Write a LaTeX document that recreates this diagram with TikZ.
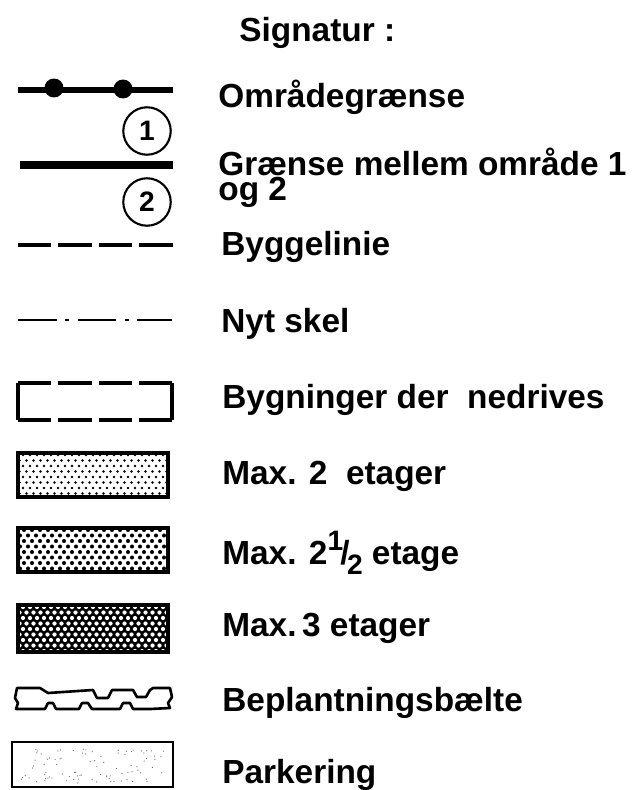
\documentclass[tikz,border=0pt]{standalone}
\usepackage{fontspec}
\setmainfont{Liberation Sans}
\usetikzlibrary{calc}
\tikzset{
    tekst/.style={anchor=west,inner sep=0pt,font=\fontsize{19}{19}\selectfont\bfseries},
    kant/.style={line width=2.2pt},
    nummer/.style={draw,circle,line width=1.2pt,minimum size=27pt,inner sep=0pt,font=\fontsize{16}{16}\selectfont\bfseries},
  }

\begin{document}
\begin{tikzpicture}[x=0.02cm,y=-0.02cm]
				  \useasboundingbox (0,0) rectangle (633,790);
				  \node[tekst] (titel) at (239,33) {Signatur :};

				   %OMRAADEGRAENSE
				  \coordinate (OA) at (18,90);
				  \coordinate (OB) at (173,90);
				  \draw [line width=3.6pt] (OA) -- (OB);
				  \fill (54,88) circle (5.4pt) (123,89) circle (5.4pt);
				  \node[tekst] (omr) at (218,97) {Områdegrænse};

				  %GRAENSE 1 OG 2
				  \node[nummer] (n1) at (147,131) {1};
				  \coordinate (GA) at (20,165);
				  \coordinate (GB) at (173,165);
				  \draw [line width=4pt] (GA) -- (GB);
				  \node[nummer] (n2) at (147,202) {2};
				  \node[tekst,align=left] (gr) at (218,178) {Grænse mellem område 1\\[-5pt]og 2};

				  %BYGGELINIE
				  \coordinate (BA) at (18,245);
				  \coordinate (BB) at (173,245);
				  \draw [line width=1.9pt,dash pattern=on 19pt off 4pt] (BA) -- (BB);
				  \node[tekst] (byg) at (221,247) {Byggelinie};

				  %NYT SKEL
				  \coordinate (SA) at (18,320);
				  \coordinate (SB) at (172,320);
				  \draw [line width=1.5pt,dash pattern=on 22pt off 5pt on 2pt off 5pt] (SA) -- (SB);
				  \node[tekst] (skel) at (221,324) {Nyt skel};

				  %BYGNINGER DER NEDRIVES
				  \coordinate (RA) at (18,383);
				  \coordinate (RB) at (172,420);
				  \draw [kant] (RA) -- (RA|-RB) (RB) -- (RB|-RA);
				  \draw [kant,dash pattern=on 19pt off 4pt] (RA) -- (RB|-RA) (RA|-RB) -- (RB);
				  \node[tekst] (ned) at (222,400) {Bygninger der\ \ nedrives};

				  %MAX 2 ETAGER
				  \begin{scope}
				  \clip (18,453) rectangle (168,497);
				  \foreach \i in {0,...,21}
				    \foreach \j in {0,...,8}
				      \fill ({16+7*\i+3.5*mod(\j,2)},{455+5.5*\j}) circle (0.75pt);
				  \end{scope}
				  \draw [kant] (18,453) rectangle (168,497);
				  \node[tekst] (e2) at (222,476) {Max. 2\ \ etager};

				  %MAX 2 1/2 ETAGE
				  \begin{scope}
				  \clip (18,528) rectangle (168,572);
				  \foreach \i in {0,...,19}
				    \foreach \j in {0,...,8}
				      \fill ({16+8*\i+4*mod(\j,2)},{530+5.5*\j}) circle (1.15pt);
				  \end{scope}
				  \draw [kant] (18,528) rectangle (168,572);
				  \node[tekst] (e25) at (222,553) {Max. 2\raisebox{0.4em}{\fontsize{16}{16}\selectfont 1}\kern-0.08em/\kern-0.08em\raisebox{-0.32em}{\fontsize{16}{16}\selectfont 2} etage};

				  %MAX 3 ETAGER
				  \begin{scope}
				  \clip (18,605) rectangle (168,652);
				  \fill (18,605) rectangle (168,652);
				  \foreach \i in {0,...,21}
				    \foreach \j in {0,...,9}
				      \fill[white] ({16+7*\i+3.5*mod(\j,2)},{607+5.5*\j}) circle (1.2pt);
				  \end{scope}
				  \draw [kant] (18,605) rectangle (168,652);
				  \node[tekst] (e3) at (222,628) {Max.\,3 etager};

				  %BEPLANTNINGSBAELTE
				  \draw [line width=1.5pt,line join=round] (17,688) -- (40,688) -- (48,693) -- (93,690) -- (97,698) -- (108,698) -- (112,690)
				        -- (133,690) -- (137,697) -- (146,697) -- (150,690) -- (153,688) -- (170,688) -- (172,697) -- (168,703) -- (170,708)
				        -- (150,709) -- (133,709) -- (130,703) -- (123,703) -- (120,709) -- (92,709) -- (88,703) -- (82,703) -- (79,709)
				        -- (56,709) -- (53,703) -- (48,703) -- (45,709) -- (16,709) -- (18,703) -- (15,698) -- cycle;
				  \node[tekst] (plant) at (222,703) {Beplantningsbælte};

				  %PARKERING
				  \pgfmathsetseed{17}
				  \begin{scope}
				  \clip (12,742) rectangle (173,787);
				  \foreach \k in {1,...,90}
				    \fill[black!60] ({20+145*rnd},{748+35*rnd}) circle (0.35pt);
				  \end{scope}
				  \draw [line width=1.6pt] (12,742) rectangle (173,787);
				  \node[tekst] (park) at (222,775) {Parkering};
				  \end{tikzpicture}
\end{document}
